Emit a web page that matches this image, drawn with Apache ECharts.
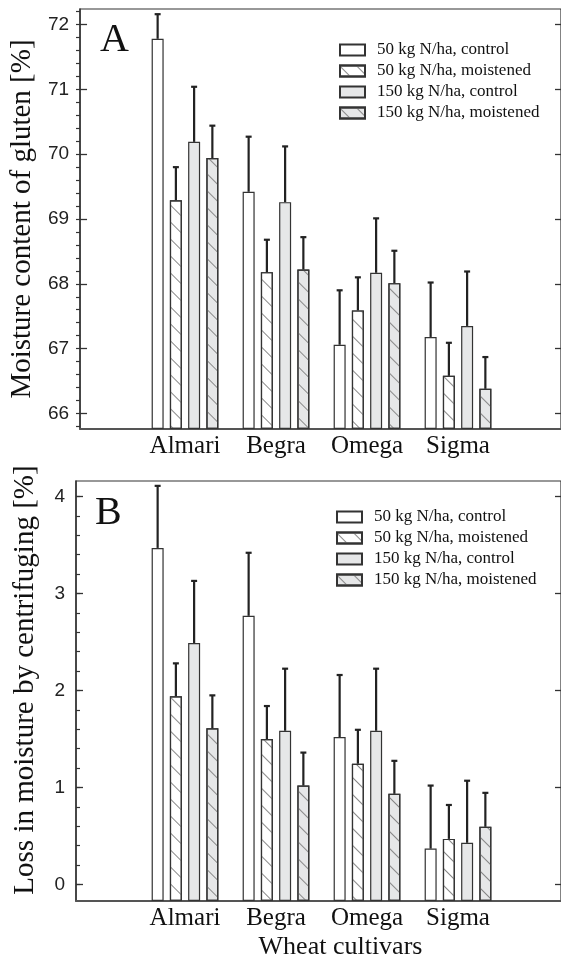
<!DOCTYPE html>
<html lang="en">
<head>
    <meta charset="UTF-8">
    <title>Gluten moisture</title>
    <script type="text/javascript" src="https://cdn.jsdelivr.net/npm/echarts@6/dist/echarts.min.js"></script>
    <style>
        html, body { margin: 0; padding: 0; background: #fff; }
    </style>
</head>
<body>
<div id="main" style="width:561px;height:961px;"></div>
<script>
    // categories + legend names
    const cultivars = ['Almari', 'Begra', 'Omega', 'Sigma'];
    const treatments = ['50 kg N/ha, control', '50 kg N/ha, moistened', '150 kg N/ha, control', '150 kg N/ha, moistened'];

    // panel A: moisture content of gluten [%]  (mean, error)
    const gluten50c = [71.78, 69.42, 67.06, 67.18];
    const gluten50cErr = [0.38, 0.85, 0.84, 0.84];
    const gluten50m = [69.29, 68.18, 67.59, 66.58];
    const gluten50mErr = [0.51, 0.50, 0.51, 0.51];
    const gluten150c = [70.19, 69.26, 68.17, 67.35];
    const gluten150cErr = [0.85, 0.86, 0.84, 0.84];
    const gluten150m = [69.94, 68.22, 68.01, 66.38];
    const gluten150mErr = [0.50, 0.50, 0.50, 0.49];

    // panel B: loss in moisture by centrifuging [%]
    const loss50c = [3.47, 2.77, 1.52, 0.37];
    const loss50cErr = [0.64, 0.65, 0.64, 0.65];
    const loss50m = [1.94, 1.50, 1.245, 0.47];
    const loss50mErr = [0.34, 0.34, 0.35, 0.35];
    const loss150c = [2.49, 1.585, 1.585, 0.43];
    const loss150cErr = [0.64, 0.64, 0.64, 0.64];
    const loss150m = [1.61, 1.02, 0.935, 0.595];
    const loss150mErr = [0.34, 0.34, 0.34, 0.35];

    // tick labels
    const glutenTicks = [66, 67, 68, 69, 70, 71, 72];
    const lossTicks = [0, 1, 2, 3, 4];
    const glutenMinor = [];
    for (let v = 65.8; v < 72.25; v += 0.2) glutenMinor.push(+v.toFixed(1));
    const lossMinor = [];
    for (let v = -0.0; v < 4.17; v += 0.2) lossMinor.push(+v.toFixed(1));

    const serif = 'Liberation Serif';
    const sans = 'Liberation Sans';
    const ink = '#333';
    const barWidth = 12;
    const barGap = 0.52;
    const pitch = barWidth * (1 + barGap);

    const hatch = {
        symbol: 'rect', symbolSize: 1,
        dashArrayX: [1, 0], dashArrayY: [1, 11],
        rotation: Math.PI / 4,
        color: '#888'
    };
    const looks = [
        { color: '#ffffff', decal: null },
        { color: '#ffffff', decal: hatch },
        { color: '#e6e7e8', decal: null },
        { color: '#e6e7e8', decal: hatch }
    ];

    let myChart = echarts.init(document.getElementById('main'), null, { renderer: 'canvas' });

    // one panel = frame grid (axes + border), minor tick grid, bar grid
    function panelGrids(top) {
        return [
            { left: 76, right: -3, top: top, height: 420, show: true, borderColor: ink, borderWidth: 1.2, backgroundColor: 'transparent' },
            { left: 76, right: -3, top: top, height: 420 },
            { left: 139.5, right: 57.5, top: top, height: 420 }
        ];
    }

    function panelX(g, withName) {
        let cat = {
            gridIndex: g + 2, type: 'category', data: cultivars,
            axisLine: { show: false, onZero: false }, axisTick: { show: false },
            axisLabel: { interval: 0, fontFamily: serif, fontSize: 25, color: '#111', margin: 5 }
        };
        if (withName) {
            cat.name = 'Wheat cultivars';
            cat.nameLocation = 'middle';
            cat.nameGap = 33;
            cat.nameTextStyle = { fontFamily: serif, fontSize: 26, color: '#111', padding: [0, 0, 0, 38] };
        }
        return [
            { gridIndex: g, type: 'value', min: 0, max: 1,
              axisLine: { show: true, onZero: false, lineStyle: { color: '#555', width: 2 } },
              axisTick: { show: false }, axisLabel: { show: false }, splitLine: { show: false } },
            { gridIndex: g + 1, type: 'value', min: 0, max: 1, show: false },
            cat
        ];
    }

    function panelY(g, min, max, ticks, minor, name, shift) {
        return [
            { gridIndex: g, type: 'value', min: min, max: max, position: 'left',
              axisLine: { show: true, lineStyle: { color: ink, width: 1.5 } },
              axisTick: { show: true, inside: true, length: 7, customValues: ticks, lineStyle: { color: ink, width: 1.3 } },
              axisLabel: { show: true, customValues: ticks, fontFamily: sans, fontSize: 19, color: '#222', margin: 11 },
              splitLine: { show: false },
              name: name, nameLocation: 'middle', nameGap: 36,
              nameTextStyle: { fontFamily: serif, fontSize: 29, color: '#111', padding: [0, 0, 0, shift] } },
            { gridIndex: g, type: 'value', min: min, max: max, position: 'right',
              axisLine: { show: false },
              axisTick: { show: true, inside: true, length: 6, customValues: ticks, lineStyle: { color: ink, width: 1.3 } },
              axisLabel: { show: false }, splitLine: { show: false } },
            { gridIndex: g + 1, type: 'value', min: min, max: max, position: 'left',
              axisLine: { show: false },
              axisTick: { show: true, inside: true, length: 4, customValues: minor, lineStyle: { color: ink, width: 1.2 } },
              axisLabel: { show: false }, splitLine: { show: false } },
            { gridIndex: g + 2, type: 'value', min: min, max: max, startValue: min, show: false, splitLine: { show: false } }
        ];
    }

    function barSeries(k, means, xi, yi) {
        let s = {
            type: 'bar', name: treatments[k], xAxisIndex: xi, yAxisIndex: yi,
            data: means, barWidth: barWidth, barGap: (barGap * 100) + '%',
            itemStyle: { color: looks[k].color, borderColor: ink, borderWidth: 1.2 }
        };
        if (looks[k].decal) s.itemStyle.decal = looks[k].decal;
        return s;
    }

    function errSeries(k, means, errs, xi, yi) {
        return {
            type: 'custom', name: treatments[k] + ' sd', xAxisIndex: xi, yAxisIndex: yi, z: 5, silent: true,
            data: means.map((m, i) => [i, m, m + errs[i]]),
            renderItem: function (params, api) {
                let lo = api.coord([api.value(0), api.value(1)]);
                let hi = api.coord([api.value(0), api.value(2)]);
                let x = lo[0] + (k - 1.5) * pitch;
                return {
                    type: 'group', children: [
                        { type: 'line', shape: { x1: x, y1: lo[1], x2: x, y2: hi[1] }, style: { stroke: '#222', lineWidth: 2.2 } },
                        { type: 'line', shape: { x1: x - 3, y1: hi[1], x2: x + 3, y2: hi[1] }, style: { stroke: '#222', lineWidth: 2.2 } }
                    ]
                };
            }
        };
    }

    const glutenMeans = [gluten50c, gluten50m, gluten150c, gluten150m];
    const glutenErrs = [gluten50cErr, gluten50mErr, gluten150cErr, gluten150mErr];
    const lossMeans = [loss50c, loss50m, loss150c, loss150m];
    const lossErrs = [loss50cErr, loss50mErr, loss150cErr, loss150mErr];

    let series = [];
    // panel A: bar grid xAxis 2, yAxis 3 ; panel B: xAxis 5, yAxis 7
    glutenMeans.forEach((m, k) => series.push(barSeries(k, m, 2, 3)));
    glutenMeans.forEach((m, k) => series.push(errSeries(k, m, glutenErrs[k], 2, 3)));
    lossMeans.forEach((m, k) => series.push(barSeries(k, m, 5, 7)));
    lossMeans.forEach((m, k) => series.push(errSeries(k, m, lossErrs[k], 5, 7)));

    function legendAt(left, top) {
        return {
            data: treatments, orient: 'vertical', left: left, top: top,
            icon: 'rect', itemWidth: 25, itemHeight: 11, itemGap: 4,
            selectedMode: false,
            textStyle: { fontFamily: serif, fontSize: 17, color: '#111', padding: [0, 0, 0, 7] }
        };
    }

    let option = {
        animation: false,
        backgroundColor: '#fff',
        title: [
            { text: 'A', left: 95, top: 15, textStyle: { fontFamily: serif, fontSize: 40, fontWeight: 'normal', color: '#111' } },
            { text: 'B', left: 90, top: 488, textStyle: { fontFamily: serif, fontSize: 40, fontWeight: 'normal', color: '#111' } }
        ],
        legend: [legendAt(334, 36.5), legendAt(331, 503.5)],
        grid: panelGrids(9).concat(panelGrids(481)),
        xAxis: panelX(0, false).concat(panelX(3, true)),
        yAxis: panelY(0, 65.76, 72.24, glutenTicks, glutenMinor, 'Moisture content of gluten [%]', 0)
            .concat(panelY(3, -0.17, 4.16, lossTicks, lossMinor, 'Loss in moisture by centrifuging [%]', 22)),
        series: series
    };
    myChart.setOption(option);
</script>
</body>
</html>
